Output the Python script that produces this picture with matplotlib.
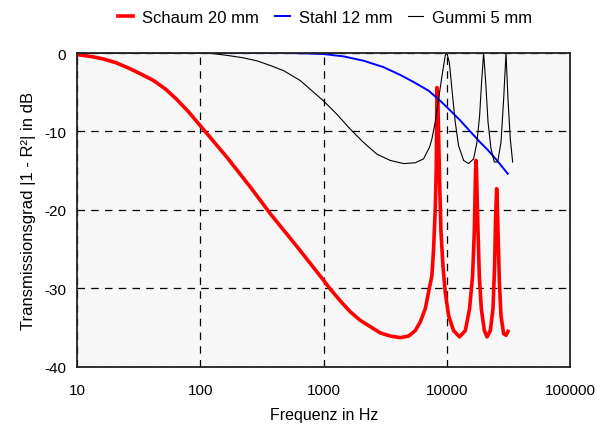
import matplotlib.pyplot as plt
import numpy as np

plt.rcParams['font.family'] = ['Liberation Sans', 'DejaVu Sans']
plt.rcParams['axes.unicode_minus'] = False

# Schaum 20 mm (frequency in Hz, transmission in dB)
schaum_f = [10, 13, 16.3, 20.7, 26.8, 33, 41.5, 52, 64, 80, 100, 164, 254, 369, 608,
            1000, 1130, 1362, 1643, 1982, 2390, 2884, 3474, 4190, 4890, 5540, 6080,
            6680, 7100, 7560, 7800, 8050, 8200, 8320, 8450, 8730, 8960, 9290, 9700,
            10330, 11330, 12670, 14120, 15290, 16170, 16700, 17020, 17200, 17400,
            17750, 18330, 19030, 20150, 21180, 22540, 23680, 24420, 24880, 25360,
            25600, 26010, 26680, 27490, 28890, 30200, 31340]
schaum_db = [-0.2, -0.45, -0.76, -1.25, -2.0, -2.7, -3.5, -4.6, -5.9, -7.5, -9.3,
             -13.3, -17.1, -20.5, -24.7, -29.0, -30.1, -31.6, -33.0, -34.1, -34.9,
             -35.7, -36.1, -36.3, -36.1, -35.4, -34.3, -32.6, -30.5, -28.4, -25.0,
             -19.9, -14.8, -4.4, -6.0, -16.5, -22.8, -27.1, -30.5, -33.5, -35.4,
             -36.2, -35.4, -32.6, -28.4, -22.8, -16.5, -13.7, -15.0, -20.7, -28.4,
             -32.6, -35.4, -36.2, -35.4, -32.6, -27.1, -20.7, -17.3, -18.5, -22.8,
             -29.2, -33.5, -35.8, -36.0, -35.5]

# Stahl 12 mm
stahl_f = [10, 100, 500, 700, 1000, 1449, 2105, 3060, 4190, 5370, 7100, 8830, 10000,
           12850, 14650, 18660, 21300, 25530, 31200]
stahl_db = [0.0, 0.0, 0.0, -0.05, -0.13, -0.43, -0.98, -1.8, -2.8, -3.7, -4.8, -6.1,
            -6.9, -8.6, -9.6, -11.4, -12.3, -13.7, -15.4]

# Gummi 5 mm
gummi_f = [10, 100, 130, 164, 220, 288, 370, 473, 644, 801, 996, 1278, 1641, 2105,
           2704, 3470, 4450, 5540, 6470, 6890, 7240, 7560, 8050, 8570, 9130, 9710,
           10000, 10470, 10990, 11690, 12440, 13670, 15010, 16480, 17540, 18440,
           19140, 19870, 20650, 21580, 22810, 24270, 25830, 27490, 28890, 30200,
           31340, 32730, 34200]
gummi_db = [0.0, 0.0, -0.1, -0.3, -0.6, -1.0, -1.6, -2.25, -3.5, -4.8, -6.1, -7.8,
            -9.7, -11.4, -12.9, -13.7, -14.1, -14.0, -13.5, -12.65, -12.0, -10.96,
            -8.8, -5.86, -2.9, -0.3, 0.0, -1.2, -4.6, -8.8, -11.8, -13.7, -14.1,
            -13.5, -11.4, -8.0, -3.7, 0.0, -3.7, -8.8, -12.2, -13.9, -13.9, -11.4,
            -5.9, 0.0, -5.9, -11.0, -13.9]

x_ticks = [10, 100, 1000, 10000, 100000]
x_ticklabels = ['10', '100', '1000', '10000', '100000']
y_ticks = [0, -10, -20, -30, -40]

fig = plt.figure(figsize=(6.11, 4.27), dpi=100)
ax = fig.add_axes([0.1265, 0.139, 0.8065, 0.7345])
ax.set_facecolor('#f7f7f7')

ax.plot(schaum_f, schaum_db, color='#ff0000', linewidth=2.6, label='Schaum 20 mm',
        solid_joinstyle='round')
ax.plot(stahl_f, stahl_db, color='#0000ff', linewidth=1.4, label='Stahl 12 mm')
ax.plot(gummi_f, gummi_db, color='black', linewidth=0.8, label='Gummi 5 mm')

ax.set_xscale('log')
ax.set_xlim(10, 100000)
ax.set_ylim(-40, 0)
ax.set_xticks(x_ticks)
ax.set_xticklabels(x_ticklabels)
ax.minorticks_off()
ax.set_yticks(y_ticks)
ax.tick_params(length=0, labelsize=11)
ax.tick_params(axis='x', pad=12)
ax.tick_params(axis='y', pad=8)
ax.grid(True, color='black', linestyle=(0, (6, 5)), linewidth=0.9)

for s in ax.spines.values():
    s.set_linewidth(1.3)
    s.set_color('#222222')

ax.set_xlabel('Frequenz in Hz', fontsize=11.5, labelpad=7)
ax.set_ylabel('Transmissionsgrad |1 - R²| in dB', fontsize=12, labelpad=6)

ax.legend(loc='center', bbox_to_anchor=(0.532, 0.957), bbox_transform=fig.transFigure,
          ncol=3, frameon=False, fontsize=12, handlelength=0.9, columnspacing=0.95,
          handletextpad=0.55)

fig.savefig('out.png', dpi=100)
